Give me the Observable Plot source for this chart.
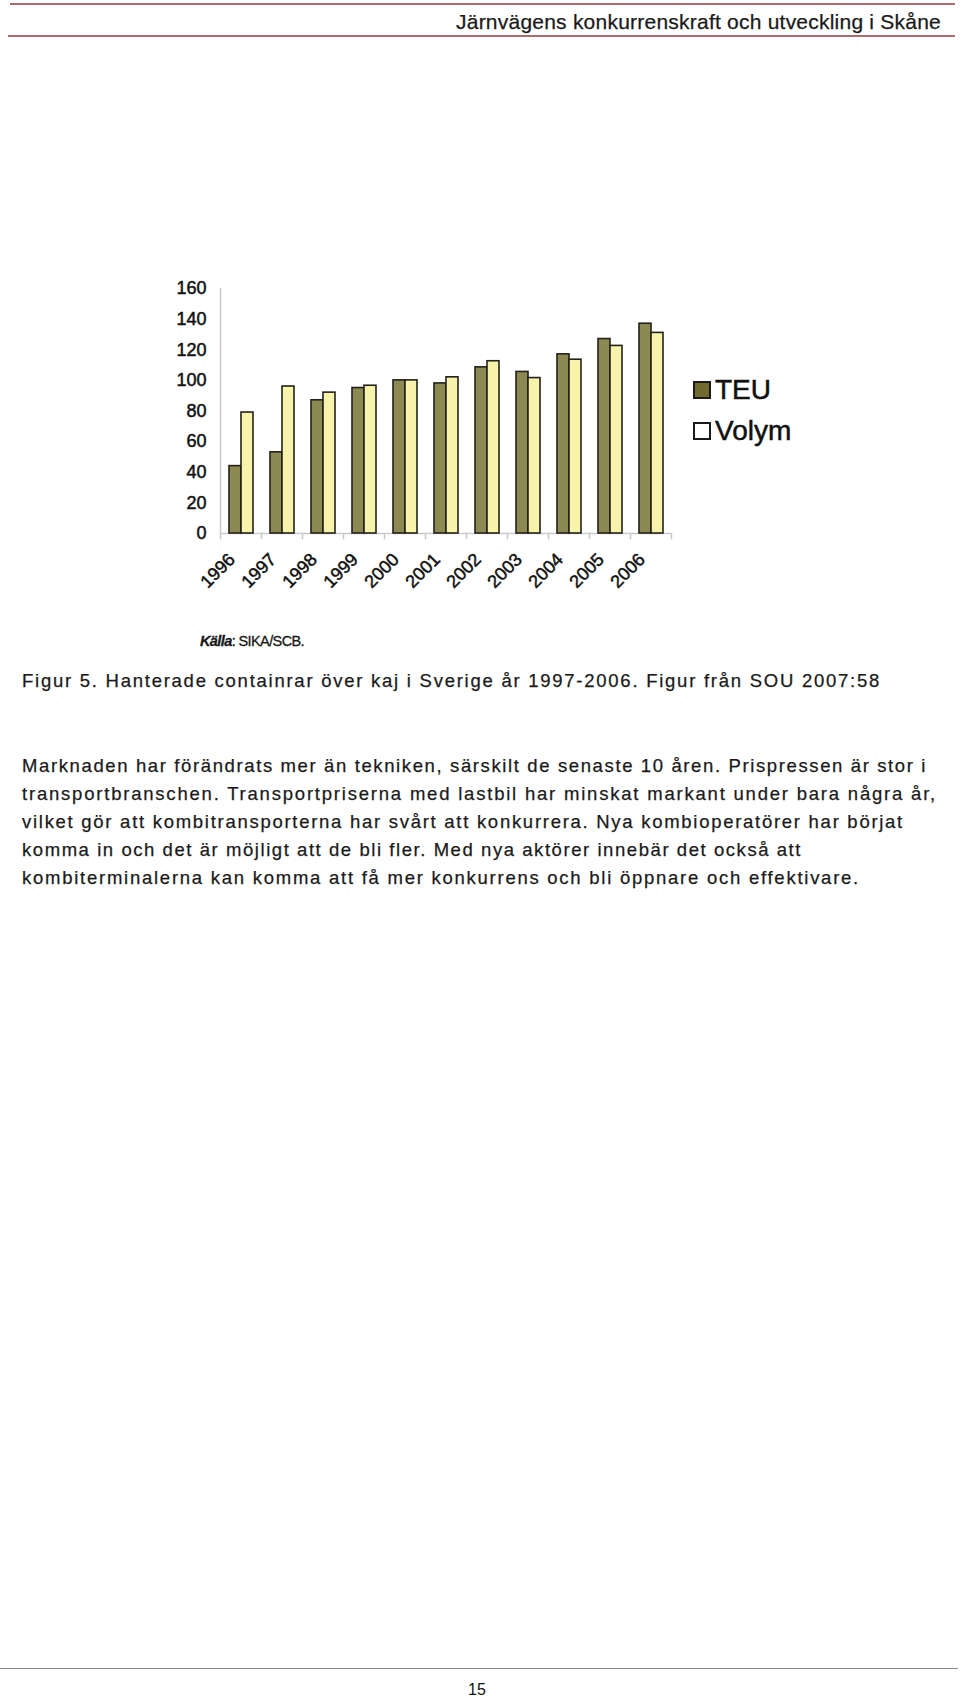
<!DOCTYPE html>
<html>
<head>
<meta charset="utf-8">
<script src="https://cdn.jsdelivr.net/npm/d3@7"></script>
<script src="https://cdn.jsdelivr.net/npm/@observablehq/plot@0.6"></script>
<style>
  html, body { margin: 0; padding: 0; background: #fff; }
  body { width: 960px; height: 1697px; position: relative; overflow: hidden;
         font-family: "Liberation Sans", Arial, sans-serif; color: #1a1a1a; }
  .abs { position: absolute; white-space: nowrap; line-height: 1; }
  .rule { position: absolute; height: 2px; background: #a96b6b; }
  .fit { display: inline-block; -webkit-text-stroke: 0.25px #1a1a1a; }
  #legend .row { position: absolute; display: flex; align-items: center; }
  #legend .sw { width: 14px; height: 14px; border: 2px solid #1a1a1a; margin-right: 4px; }
  #legend .lab { font-size: 28px; color: #111; -webkit-text-stroke: 0.5px #111; }
</style>
</head>
<body>
<div class="rule" style="left:10px; width:945px; top:3px;"></div>
<div class="abs" style="left:456px; top:11px; font-size:21px;"><span class="fit" id="header" data-w="485">Järnvägens konkurrenskraft och utveckling i Skåne</span></div>
<div class="rule" style="left:8px; width:947px; top:35px;"></div>

<div id="chart" style="position:absolute; left:0; top:250px;"></div>
<div id="legend"></div>
<div class="abs" id="source" style="left:200px; top:634px; font-size:14.5px; letter-spacing:-0.6px; -webkit-text-stroke:0.3px #111;"><i><b>Källa</b></i>: SIKA/SCB.</div>

<div id="texts"></div>

<div style="position:absolute; left:0; width:958px; top:1668px; height:1px; background:#8a8a8a;"></div>
<div class="abs" style="left:468px; top:1682px; font-size:16px; color:#111;">15</div>

<script>
// ---- data ----
const years = ["1996", "1997", "1998", "1999", "2000", "2001", "2002", "2003", "2004", "2005", "2006"];
const series = ["TEU", "Volym"];
const teu   = [44, 53, 87, 95, 100, 98, 108.5, 105.5, 117, 127, 137];
const volym = [79, 96, 92, 96.5, 100, 102, 112.5, 101.5, 113.5, 122.5, 131];
const yTicks = [0, 20, 40, 60, 80, 100, 120, 140, 160];
const barColors = ["#8d8953", "#f7f3aa"];
const legendColors = ["#6f6a2e", "#ffffff"];

const headerText = "Järnvägens konkurrenskraft och utveckling i Skåne";
const captionText = "Figur 5. Hanterade containrar över kaj i Sverige år 1997-2006. Figur från SOU 2007:58";
const bodyLines = [
  "Marknaden har förändrats mer än tekniken, särskilt de senaste 10 åren. Prispressen är stor i",
  "transportbranschen. Transportpriserna med lastbil har minskat markant under bara några år,",
  "vilket gör att kombitransporterna har svårt att konkurrera. Nya kombioperatörer har börjat",
  "komma in och det är möjligt att de bli fler. Med nya aktörer innebär det också att",
  "kombiterminalerna kan komma att få mer konkurrens och bli öppnare och effektivare."
];
const bodyWidths = [905, 915, 882, 780, 838];

const data = years.flatMap((year, i) => [
  {year, series: series[0], value: teu[i]},
  {year, series: series[1], value: volym[i]}
]);

// ---- chart ----
const plotTop = 38, plotBottomMargin = 77, plotHeight = 360;
const chart = Plot.plot({
  width: 690,
  height: plotHeight,
  marginLeft: 218,
  marginRight: 18,
  marginTop: plotTop,
  marginBottom: plotBottomMargin,
  style: {fontFamily: "'Liberation Sans', Arial, sans-serif", background: "transparent", overflow: "visible"},
  fx: {domain: years, padding: 0, label: null},
  x: {domain: series, paddingInner: 0, paddingOuter: 0.667, axis: null},
  y: {domain: [0, 160], label: null},
  color: {domain: series, range: barColors},
  marks: [
    Plot.frame({anchor: "left", fx: years[0], stroke: "#c9c9c9", strokeWidth: 1.5}),
    Plot.frame({anchor: "left", stroke: "#c9c9c9", strokeWidth: 1.5, insetTop: plotHeight - plotTop - plotBottomMargin, insetBottom: -5}),
    Plot.frame({anchor: "right", fx: years[years.length - 1], stroke: "#c9c9c9", strokeWidth: 1.5, insetTop: plotHeight - plotTop - plotBottomMargin, insetBottom: -5}),
    Plot.ruleY([0], {stroke: "#c9c9c9", strokeWidth: 1.5}),
    Plot.barY(data, {fx: "year", x: "series", y: "value", fill: "series", stroke: "#23211a", strokeWidth: 1.6}),
    Plot.axisY(yTicks, {tickSize: 0, tickPadding: 14, fontSize: 18, fill: "#111", textStroke: "#111", textStrokeWidth: 0.5, label: null}),
    Plot.axisFx({anchor: "bottom", tickRotate: -45, tickSize: 0, tickPadding: 23, dx: -9, fontSize: 18, fill: "#111", textStroke: "#111", textStrokeWidth: 0.5, label: null})
  ]
});
document.getElementById("chart").appendChild(chart);

// ---- legend ----
const legend = document.getElementById("legend");
series.forEach((s, i) => {
  const row = document.createElement("div");
  row.className = "row";
  row.style.left = "693px";
  row.style.top = (374 + i * 41) + "px";
  const sw = document.createElement("div");
  sw.className = "sw";
  sw.style.background = legendColors[i];
  const lab = document.createElement("div");
  lab.className = "lab";
  lab.textContent = s;
  row.appendChild(sw); row.appendChild(lab);
  legend.appendChild(row);
});

// ---- text blocks ----
const texts = document.getElementById("texts");
function addLine(txt, left, top, size, width) {
  const d = document.createElement("div");
  d.className = "abs";
  d.style.left = left + "px";
  d.style.top = top + "px";
  d.style.fontSize = size + "px";
  const sp = document.createElement("span");
  sp.className = "fit";
  sp.dataset.w = width;
  sp.textContent = txt;
  d.appendChild(sp);
  texts.appendChild(d);
}
addLine(captionText, 22, 672, 18.5, 859);
bodyLines.forEach((t, i) => addLine(t, 22, 757 + i * 28, 18.5, bodyWidths[i]));

document.querySelectorAll(".fit").forEach(el => {
  el.style.letterSpacing = "0px";
  const w = el.getBoundingClientRect().width;
  const n = el.textContent.length;
  el.style.letterSpacing = ((+el.dataset.w - w) / n) + "px";
});
</script>
</body>
</html>
